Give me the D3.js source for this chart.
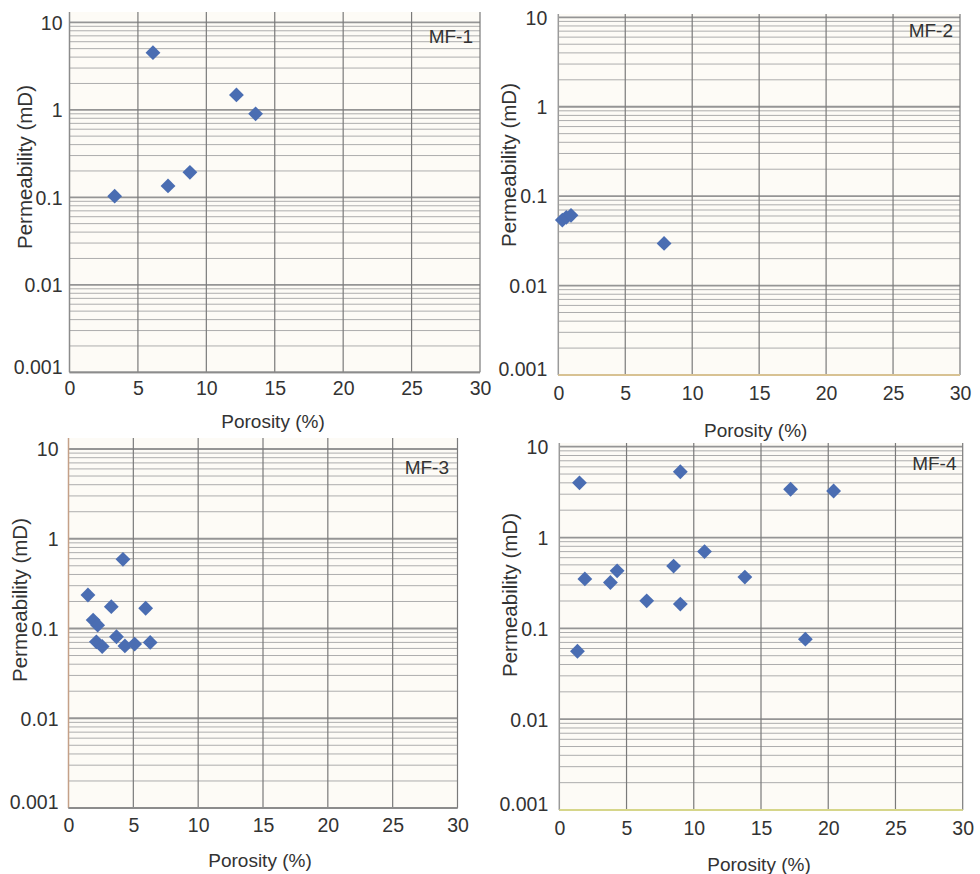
<!DOCTYPE html>
<html><head><meta charset="utf-8">
<script src="https://cdn.jsdelivr.net/npm/d3@7"></script>
<style>
html,body{margin:0;padding:0;background:#fff;}
svg{display:block;}
text{font-family:"Liberation Sans",Arial,sans-serif;fill:#333;}
</style></head>
<body>
<svg id="chart" width="980" height="874"></svg>
<script>
// ---- data ----
const panelNames = ["MF-1", "MF-2", "MF-3", "MF-4"];
const xTickValues = [0, 5, 10, 15, 20, 25, 30];
const yTickValues = [0.001, 0.01, 0.1, 1, 10];
const yTickLabels = ["0.001", "0.01", "0.1", "1", "10"];
const xTitle = "Porosity (%)";
const yTitle = "Permeability (mD)";

const mf1Porosity = [6.1, 12.2, 13.6, 8.8, 7.2, 3.3];
const mf1Perm     = [4.5, 1.48, 0.9, 0.193, 0.135, 0.103];

const mf2Porosity = [0.3, 0.6, 0.95, 7.9];
const mf2Perm     = [0.054, 0.058, 0.061, 0.0296];

const mf3Porosity = [4.2, 1.5, 3.3, 5.95, 1.9, 2.25, 2.15, 2.6, 3.7, 4.35, 5.1, 6.3];
const mf3Perm     = [0.59, 0.236, 0.175, 0.168, 0.124, 0.109, 0.071, 0.063, 0.081, 0.064, 0.067, 0.070];

const mf4Porosity = [1.5, 9.0, 17.2, 20.4, 10.8, 8.5, 4.3, 1.9, 3.8, 13.8, 6.5, 9.0, 18.3, 1.35];
const mf4Perm     = [4.0, 5.3, 3.4, 3.25, 0.70, 0.485, 0.43, 0.35, 0.32, 0.367, 0.201, 0.185, 0.076, 0.056];

const seriesX = [mf1Porosity, mf2Porosity, mf3Porosity, mf4Porosity];
const seriesY = [mf1Perm, mf2Perm, mf3Perm, mf4Perm];

// ---- layout (pixels) ----
const layouts = [
  {x0: 69.5, x1: 480,   y0: 372.3, y1: 22.3,  gTop: 12,  lblGap: 7,  xLblDy: 16, xt: [273, 421],   yt: [25, 167],   nm: [473, 42.5], leftC: "#8c8c8c", botC: "#8c8c8c"},
  {x0: 558.3, x1: 960,  y0: 375,   y1: 17.3,  gTop: 14,  lblGap: 11, xLblDy: 18, xt: [755.7, 430], yt: [508.5, 165], nm: [953, 37],   leftC: "#9a9a9a", botC: "#d8c293"},
  {x0: 68.5, x1: 457.5, y0: 808,   y1: 449,   gTop: 438, lblGap: 10, xLblDy: 17, xt: [260, 860],   yt: [20, 600],   nm: [449, 473.5], leftC: "#c4a088", botC: "#8c8c8c"},
  {x0: 559.3, x1: 962.7,y0: 810,   y1: 446.7, gTop: 443, lblGap: 11, xLblDy: 18, xt: [759, 864],   yt: [510, 595],  nm: [956.5, 470], leftC: "#9a9a9a", botC: "#d6d68a"}
];

const svg = d3.select("#chart");

layouts.forEach((L, i) => {
  const x = d3.scaleLinear().domain([0, 30]).range([L.x0, L.x1]);
  const y = d3.scaleLog().domain([0.001, 10]).range([L.y0, L.y1]);
  const g = svg.append("g");

  // plot background
  g.append("rect")
    .attr("x", L.x0).attr("y", L.gTop)
    .attr("width", L.x1 - L.x0).attr("height", L.y0 - L.gTop)
    .attr("fill", "#fdfbf6");

  const isMajor = d => Math.abs(Math.log10(d) - Math.round(Math.log10(d))) < 1e-9;

  // horizontal log grid
  const hTicks = y.ticks();
  g.selectAll("line.h").data(hTicks).enter().append("line")
    .attr("x1", L.x0).attr("x2", L.x1)
    .attr("y1", d => y(d)).attr("y2", d => y(d))
    .attr("stroke", d => isMajor(d) ? "#959595" : "#adadad")
    .attr("stroke-width", d => isMajor(d) ? 1.8 : 1);

  // vertical grid
  g.selectAll("line.v").data(xTickValues.slice(1)).enter().append("line")
    .attr("x1", d => x(d)).attr("x2", d => x(d))
    .attr("y1", L.gTop).attr("y2", L.y0)
    .attr("stroke", "#7a7a7a").attr("stroke-width", 1.2);

  // left axis line
  g.append("line").attr("x1", L.x0).attr("x2", L.x0).attr("y1", L.gTop).attr("y2", L.y0)
    .attr("stroke", L.leftC).attr("stroke-width", 1.5);
  // bottom axis line
  g.append("line").attr("x1", L.x0).attr("x2", L.x1).attr("y1", L.y0).attr("y2", L.y0)
    .attr("stroke", L.botC).attr("stroke-width", 1.8);

  // y axis labels
  const yAxis = d3.axisLeft(y).tickValues(yTickValues)
    .tickFormat((d, k) => yTickLabels[k]).tickSize(0).tickPadding(L.lblGap);
  const ya = g.append("g").attr("transform", `translate(${L.x0},0)`).call(yAxis);
  ya.select(".domain").remove();
  ya.selectAll("text").attr("font-size", 19.5).attr("fill", "#333")
    .style("font-family", '"Liberation Sans", Arial, sans-serif')
    .attr("dy", d => d === 0.001 ? "0.05em" : "0.35em");

  // x axis labels
  const xAxis = d3.axisBottom(x).tickValues(xTickValues).tickFormat(d3.format("d")).tickSize(0).tickPadding(0);
  const xa = g.append("g").attr("transform", `translate(0,${L.y0 + L.xLblDy})`).call(xAxis);
  xa.select(".domain").remove();
  xa.selectAll("text").attr("font-size", 19.5).attr("fill", "#333").attr("dy", "0.35em")
    .style("font-family", '"Liberation Sans", Arial, sans-serif');

  // axis titles
  g.append("text").attr("x", L.xt[0]).attr("y", L.xt[1]).attr("dy", "0.35em")
    .attr("text-anchor", "middle").attr("font-size", 19).text(xTitle);
  g.append("text").attr("transform", `translate(${L.yt[0]},${L.yt[1]}) rotate(-90)`)
    .attr("dy", "0.35em").attr("text-anchor", "middle").attr("font-size", 20.5).text(yTitle);

  // panel name
  g.append("text").attr("x", L.nm[0]).attr("y", L.nm[1]).attr("text-anchor", "end")
    .attr("font-size", 19).text(panelNames[i]);

  // points
  const pts = seriesX[i].map((v, k) => [v, seriesY[i][k]]);
  const sym = d3.symbol().type(d3.symbolSquare).size(110);
  g.selectAll("path.pt").data(pts).enter().append("path")
    .attr("d", sym)
    .attr("transform", d => `translate(${x(d[0])},${y(d[1])}) rotate(45)`)
    .attr("fill", "#4a6db2");
});
</script>
</body></html>
